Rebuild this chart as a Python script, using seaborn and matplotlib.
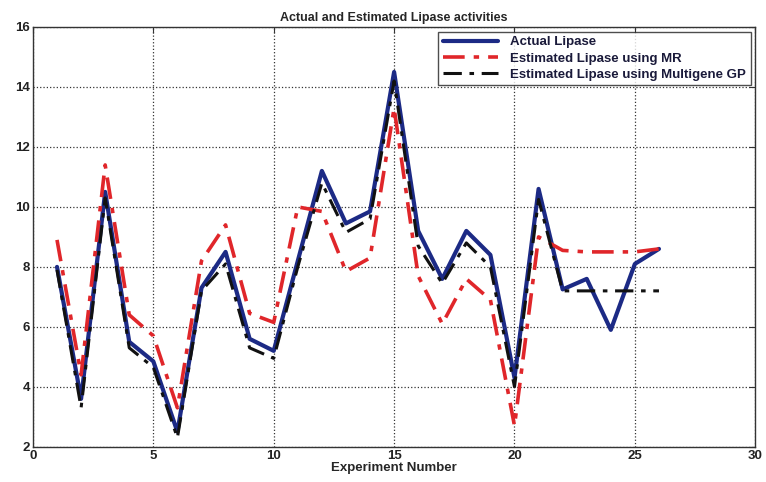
import matplotlib
matplotlib.use("Agg")
import matplotlib.pyplot as plt
import seaborn as sns
import pandas as pd

experiments = list(range(1, 27))
actual = [8.0, 3.6, 10.5, 5.5, 4.85, 2.5, 7.3, 8.5, 5.6, 5.2, 8.2, 11.2, 9.45, 9.85, 14.5,
          9.2, 7.6, 9.2, 8.4, 4.3, 10.6, 7.25, 7.6, 5.9, 8.1, 8.6]
est_mr = [8.9, 4.4, 11.4, 6.4, 5.7, 3.3, 8.2, 9.4, 6.45, 6.15, 10.0, 9.85, 7.85, 8.3, 13.3,
          7.7, 6.1, 7.6, 6.9, 2.7, 9.0, 8.55, 8.5, 8.5, 8.5, 8.6]
est_gp = [7.9, 3.3, 10.3, 5.3, 4.65, 2.3, 7.2, 8.1, 5.3, 4.95, 8.0, 10.8, 9.15, 9.6, 14.2,
          8.7, 7.45, 8.8, 8.0, 4.0, 10.25, 7.2, 7.2, 7.2, 7.2, 7.2]

df = pd.DataFrame({"exp": experiments, "actual": actual, "mr": est_mr, "gp": est_gp})

sns.set_style("white")
plt.rcParams['font.family'] = ['Liberation Sans', 'DejaVu Sans']

fig = plt.figure(figsize=(7.66, 4.82), dpi=100)
ax = fig.add_axes([0.043, 0.073, 0.943, 0.871])

sns.lineplot(data=df, x="exp", y="actual", ax=ax, color="#1c2a85", linewidth=3.0,
             label="Actual Lipase")
sns.lineplot(data=df, x="exp", y="mr", ax=ax, color="#e0262a", linewidth=2.6,
             linestyle=(0, (6, 2.5, 1.5, 2.5)), label="Estimated Lipase using MR")
sns.lineplot(data=df, x="exp", y="gp", ax=ax, color="#111111", linewidth=2.2,
             linestyle=(0, (6, 2.5, 1.5, 2.5)), label="Estimated Lipase using Multigene GP")

ax.set_xlim(0, 30)
ax.set_ylim(2, 16)
ax.set_xticks([0, 5, 10, 15, 20, 25, 30])
ax.set_yticks([2, 4, 6, 8, 10, 12, 14, 16])
ax.grid(True, color="black", linestyle=":", linewidth=0.9, alpha=0.8)
for s in ax.spines.values():
    s.set_color("#333333")
    s.set_linewidth(1.0)
ax.tick_params(direction="in", top=True, right=True, length=4, labelsize=9.5,
               colors="#333333", labelcolor="#222222", pad=2)
for lab in ax.get_xticklabels() + ax.get_yticklabels():
    lab.set_fontweight("bold")

ax.set_title("Actual and Estimated Lipase activities", fontsize=9, fontweight="bold", pad=4)
ax.set_xlabel("Experiment Number", fontsize=9.5, fontweight="bold", labelpad=0.5)
ax.set_ylabel("")

leg = ax.legend(loc="upper right", fontsize=9.5, frameon=True, fancybox=False,
                borderaxespad=0.35, handlelength=4.2, labelspacing=0.3,
                borderpad=0.35, handletextpad=0.9)
leg.get_frame().set_edgecolor("#222222")
leg.get_frame().set_linewidth(1.0)
for t in leg.get_texts():
    t.set_fontweight("bold")
    t.set_color("#1a1a3a")

fig.savefig("out.png", dpi=100)
